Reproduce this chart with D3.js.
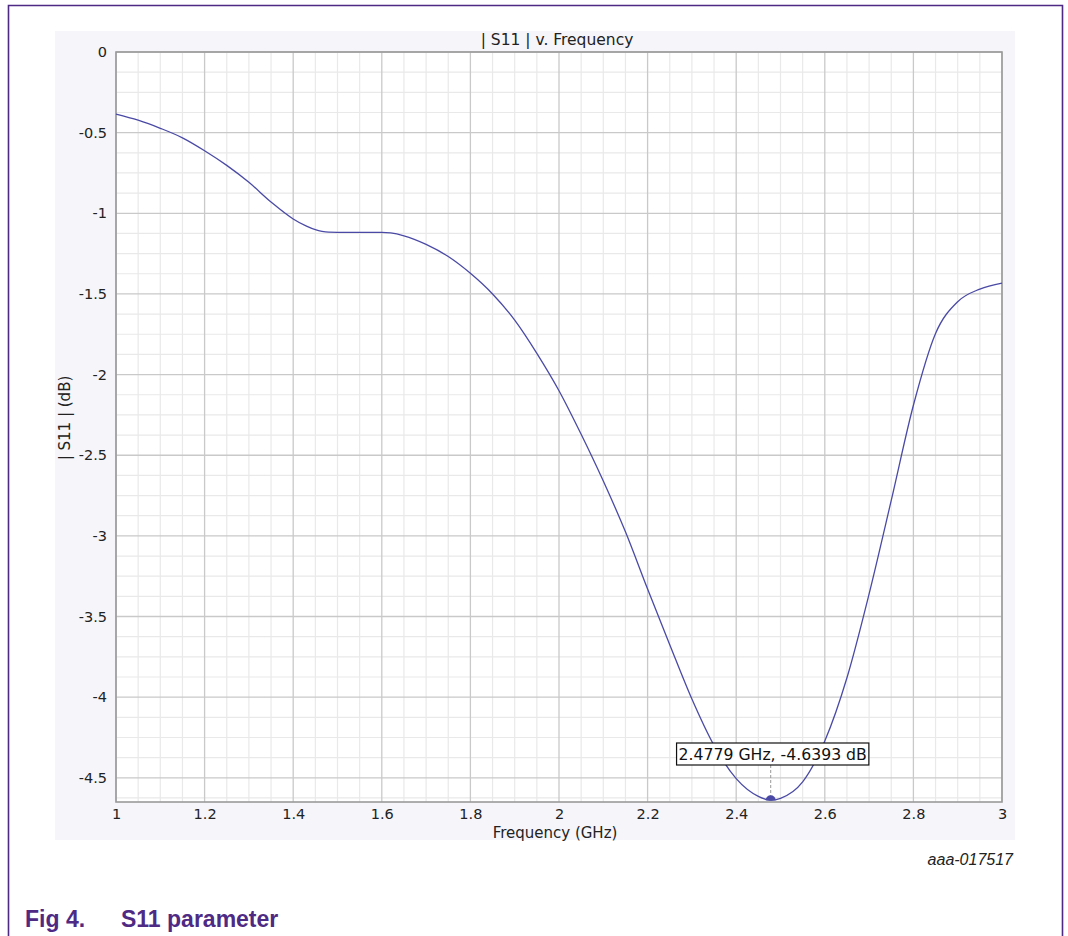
<!DOCTYPE html>
<html><head><meta charset="utf-8">
<script src="https://cdn.jsdelivr.net/npm/d3@7/dist/d3.min.js"></script>
<style>
html,body{margin:0;padding:0;background:#fff;}
svg{display:block;}
</style></head>
<body>
<svg id="chart" width="1068" height="936"></svg>
<script>
// ---- data ----
const freqGHz = [1.00,1.05,1.10,1.15,1.20,1.25,1.30,1.35,1.40,1.43,1.45,1.465,1.48,1.50,1.55,1.60,1.62,1.65,1.70,1.75,1.80,1.85,1.90,1.95,2.00,2.05,2.10,2.15,2.20,2.25,2.30,2.35,2.40,2.45,2.4779,2.50,2.55,2.60,2.65,2.70,2.75,2.80,2.85,2.90,2.95,3.00];
const s11dB   = [-0.385,-0.423,-0.473,-0.532,-0.612,-0.703,-0.808,-0.930,-1.035,-1.080,-1.102,-1.112,-1.117,-1.118,-1.118,-1.118,-1.122,-1.140,-1.193,-1.268,-1.372,-1.500,-1.662,-1.868,-2.100,-2.370,-2.660,-2.975,-3.330,-3.675,-4.012,-4.300,-4.505,-4.615,-4.6393,-4.627,-4.525,-4.272,-3.880,-3.360,-2.780,-2.190,-1.745,-1.548,-1.470,-1.433];
const xTicks = [1,1.2,1.4,1.6,1.8,2,2.2,2.4,2.6,2.8,3];
const xTickLabels = ["1","1.2","1.4","1.6","1.8","2","2.2","2.4","2.6","2.8","3"];
const yTicks = [0,-0.5,-1,-1.5,-2,-2.5,-3,-3.5,-4,-4.5];
const yTickLabels = ["0","-0.5","-1","-1.5","-2","-2.5","-3","-3.5","-4","-4.5"];
const markerFreq = [2.4779];
const markerDB = [-4.6393];
const markerLabel = ["2.4779 GHz, -4.6393 dB"];
const chartTitle = "| S11 | v. Frequency";
const xTitle = "Frequency (GHz)";
const yTitle = "| S11 | (dB)";
const figCode = "aaa-017517";
const figNum = "Fig 4.";
const figCaption = "S11 parameter";

// ---- layout ----
const svg = d3.select("#chart");
const L = 116, T = 52, R = 1002, B = 802;
const x = d3.scaleLinear().domain([1,3]).range([L,R]);
const y = d3.scaleLinear().domain([0,-4.65]).range([T,B]);
const purple = "#4e2a84";
const font = "'DejaVu Sans', Verdana, sans-serif";
const capFont = "'Liberation Sans', Arial, sans-serif";

// document frame (top + sides)
svg.append("path").attr("d","M8.5,936 V5.5 H1062.5 V936")
  .attr("fill","none").attr("stroke",purple).attr("stroke-width",1.6);

// chart panel background
svg.append("rect").attr("x",55).attr("y",31).attr("width",960).attr("height",809).attr("fill","#f5f5fa");
svg.append("rect").attr("x",L).attr("y",T).attr("width",R-L).attr("height",B-T).attr("fill","#ffffff");

// grid
const g = svg.append("g");
const minorX = d3.range(1,3.0001,0.05).filter(v=>Math.abs(v*5-Math.round(v*5))>1e-6);
const minorY = d3.range(0,-4.65,-0.125).filter(v=>Math.abs(v*2-Math.round(v*2))>1e-6);
g.selectAll(".mx").data(minorX).join("line")
  .attr("x1",d=>x(d)).attr("x2",d=>x(d)).attr("y1",T).attr("y2",B)
  .attr("stroke","#e9e9e9").attr("stroke-width",1.2);
g.selectAll(".my").data(minorY).join("line")
  .attr("x1",L).attr("x2",R).attr("y1",d=>y(d)).attr("y2",d=>y(d))
  .attr("stroke","#e9e9e9").attr("stroke-width",1.2);
g.selectAll(".Mx").data(xTicks).join("line")
  .attr("x1",d=>x(d)).attr("x2",d=>x(d)).attr("y1",T).attr("y2",B)
  .attr("stroke","#c9c9c9").attr("stroke-width",1.3);
g.selectAll(".My").data(yTicks).join("line")
  .attr("x1",L).attr("x2",R).attr("y1",d=>y(d)).attr("y2",d=>y(d))
  .attr("stroke","#c9c9c9").attr("stroke-width",1.3);

// axes via d3 axis (labels only)
const xAxis = d3.axisBottom(x).tickValues(xTicks).tickFormat((d,i)=>xTickLabels[i]).tickSize(0).tickPadding(7);
const yAxis = d3.axisLeft(y).tickValues(yTicks).tickFormat((d,i)=>yTickLabels[i]).tickSize(0).tickPadding(9);
const gx = svg.append("g").attr("transform",`translate(0,${B})`).call(xAxis);
const gy = svg.append("g").attr("transform",`translate(${L},0)`).call(yAxis);
[gx,gy].forEach(a=>{
  a.select(".domain").remove();
  a.selectAll("text").attr("font-family",font).attr("font-size",14.5).attr("fill","#222");
});

// plot frame
svg.append("rect").attr("x",L).attr("y",T).attr("width",R-L).attr("height",B-T)
  .attr("fill","none").attr("stroke","#9a9a9a").attr("stroke-width",1.6);

// curve
const data = freqGHz.map((f,i)=>({f,v:s11dB[i]}));
const line = d3.line().x(d=>x(d.f)).y(d=>y(d.v)).curve(d3.curveMonotoneX);
svg.append("path").datum(data).attr("d",line)
  .attr("fill","none").attr("stroke","#4a4aa6").attr("stroke-width",1.3);

// marker
const mx = x(markerFreq[0]), my = y(markerDB[0]);
const boxTop = 743, boxH = 22;
svg.append("line").attr("x1",mx).attr("x2",mx).attr("y1",boxTop+boxH).attr("y2",my)
  .attr("stroke","#999").attr("stroke-width",1).attr("stroke-dasharray","3,2");
svg.append("path").attr("d",d3.arc()({innerRadius:0,outerRadius:5,startAngle:-Math.PI/2,endAngle:Math.PI/2}))
  .attr("transform",`translate(${mx},${my})`).attr("fill","#4a4aa6");
const boxRect = svg.append("rect");
const lbl = svg.append("text").attr("x",mx + 2).attr("y",boxTop+17)
  .attr("text-anchor","middle").attr("font-family",font).attr("font-size",15.7).attr("fill","#111")
  .text(markerLabel[0]);
const bb = lbl.node().getBBox();
boxRect.attr("x",bb.x-2).attr("y",boxTop).attr("width",bb.width+4).attr("height",boxH)
  .attr("fill","#fff").attr("stroke","#111").attr("stroke-width",1.2);

// titles
svg.append("text").attr("x",(L+R)/2-2).attr("y",45).attr("text-anchor","middle")
  .attr("font-family",font).attr("font-size",15.5).attr("fill","#222").text(chartTitle);
svg.append("text").attr("x",(L+R)/2 - 4).attr("y",838).attr("text-anchor","middle")
  .attr("font-family",font).attr("font-size",15).attr("fill","#222").text(xTitle);
svg.append("text").attr("transform","translate(70,418) rotate(-90)").attr("text-anchor","middle")
  .attr("font-family",font).attr("font-size",15).attr("fill","#222").text(yTitle);

// figure code & caption
svg.append("text").attr("x",1013).attr("y",865).attr("text-anchor","end")
  .attr("font-family",capFont).attr("font-style","italic")
  .attr("font-size",16).attr("fill","#222").text(figCode);
svg.append("text").attr("x",25).attr("y",927)
  .attr("font-family",capFont).attr("font-weight","bold")
  .attr("font-size",23).attr("fill",purple).text(figNum);
svg.append("text").attr("x",121).attr("y",927)
  .attr("font-family",capFont).attr("font-weight","bold")
  .attr("font-size",23).attr("fill",purple).text(figCaption);
</script>
</body></html>
